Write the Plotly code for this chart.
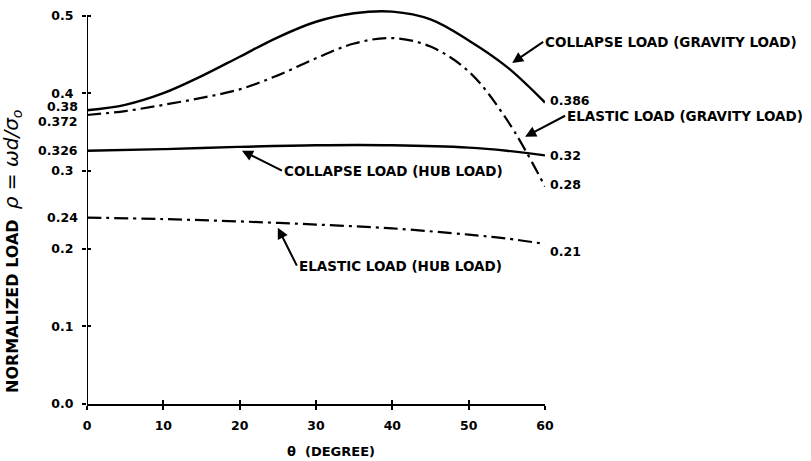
import plotly.graph_objects as go

# ---- data ----
theta = [0, 5, 10, 15, 20, 25, 30, 35, 40, 45, 50, 55, 60]
collapse_gravity = [0.378, 0.385, 0.400, 0.422, 0.447, 0.472, 0.492, 0.503, 0.505, 0.495, 0.468, 0.434, 0.388]
elastic_gravity = [0.372, 0.377, 0.385, 0.394, 0.405, 0.423, 0.445, 0.464, 0.471, 0.460, 0.428, 0.366, 0.28]
theta_hub = [0, 10, 20, 30, 40, 50, 55, 60]
collapse_hub = [0.326, 0.328, 0.331, 0.333, 0.333, 0.330, 0.326, 0.320]
elastic_hub = [0.240, 0.238, 0.235, 0.231, 0.226, 0.218, 0.213, 0.206]

x_ticks = [0, 10, 20, 30, 40, 50, 60]
y_ticks = [0.0, 0.1, 0.2, 0.3, 0.4, 0.5]
y_ticktext = ["0.0", "0.1", "0.2", "0.3", "0.4", "0.5"]
start_labels = ["0.38", "0.372", "0.326", "0.24"]
start_values = [0.38, 0.372, 0.326, 0.24]
start_shift = [2, -7, 0, 0]
end_labels = ["0.386", "0.32", "0.28", "0.21"]
end_shift = [2, 0, 2, -8]

Y_TOP = 0.5097  # a little headroom so the peak is not clipped
FONT = "DejaVu Sans"
fig = go.Figure()
solid = dict(color="black", width=2.4, shape="spline", smoothing=1.0)
dashdot = dict(color="black", width=2.2, shape="spline", smoothing=1.0, dash="14px,5px,3px,5px")

for xs, ys, ln in [(theta, collapse_gravity, solid), (theta, elastic_gravity, dashdot),
                   (theta_hub, collapse_hub, solid), (theta_hub, elastic_hub, dashdot)]:
    fig.add_trace(go.Scatter(x=xs, y=ys, mode="lines", line=ln, hoverinfo="skip"))
# invisible trace to activate the overlay axes (inner half of the cross ticks)
fig.add_trace(go.Scatter(x=[0], y=[0], xaxis="x2", yaxis="y2", mode="markers",
                         marker=dict(opacity=0), hoverinfo="skip"))

annots = []
tfont = dict(family=FONT, size=12.5, color="black")
for lab, v, s in zip(start_labels, start_values, start_shift):
    annots.append(dict(x=0, y=v, xref="paper", yref="y", text=f"<b>{lab}</b>", showarrow=False,
                       xanchor="right", yanchor="middle", xshift=-7, yshift=s, font=tfont))
ends = [collapse_gravity[-1], collapse_hub[-1], elastic_gravity[-1], elastic_hub[-1]]
for lab, v, s in zip(end_labels, ends, end_shift):
    annots.append(dict(x=60, y=v, xref="x", yref="y", text=f"<b>{lab}</b>", showarrow=False,
                       xanchor="left", yanchor="middle", xshift=3, yshift=s, font=tfont))

afont = dict(family=FONT, size=13.5, color="black")
arrow = dict(showarrow=True, arrowhead=2, arrowsize=1.1, arrowwidth=2, arrowcolor="black",
             xanchor="left", yanchor="middle", font=afont, standoff=0)
annots.append(dict(x=55.7, y=0.439, text="<b>COLLAPSE LOAD (GRAVITY LOAD)</b>", ax=31, ay=-21, **arrow))
annots.append(dict(x=57.4, y=0.344, text="<b>ELASTIC LOAD (GRAVITY LOAD)</b>", ax=40, ay=-21, **arrow))
annots.append(dict(x=20.3, y=0.326, text="<b>COLLAPSE LOAD (HUB LOAD)</b>", ax=40, ay=20, **arrow))
annots.append(dict(x=25.0, y=0.227, text="<b>ELASTIC LOAD (HUB LOAD)</b>", ax=19, ay=38, **arrow))

PH = 396.0  # plot height in px
annots.append(dict(x=-75 / 458, y=(404 - 252) / PH, xref="paper", yref="paper",
                   text="<b>NORMALIZED LOAD</b>  <span style='font-size:20px'><i>ρ = ωd/σ<sub>o</sub></i></span>",
                   textangle=-90, showarrow=False, xanchor="center", yanchor="middle",
                   font=dict(family=FONT, size=16, color="black")))
annots.append(dict(x=(331 - 87) / 458, y=-(452 - 404) / PH, xref="paper", yref="paper",
                   text="<b>θ  (DEGREE)</b>", showarrow=False, xanchor="center", yanchor="middle",
                   font=dict(family=FONT, size=13, color="black")))

fig.update_layout(
    width=811, height=461,
    margin=dict(l=87, r=266, t=8, b=57, autoexpand=False),
    paper_bgcolor="white", plot_bgcolor="white",
    showlegend=False,
    annotations=annots,
    font=dict(family=FONT, size=13, color="black"),
    shapes=[dict(type="line", xref="x", yref="y", x0=0, x1=0, y0=0, y1=0.5,
                 line=dict(color="black", width=2))],
)
axis_common = dict(showgrid=False, zeroline=False, linecolor="black", linewidth=2,
                   ticks="outside", ticklen=4, tickwidth=2, tickcolor="black", automargin=False,
                   tickfont=dict(family=FONT, size=12.5, color="black"))
fig.update_layout(
    xaxis=dict(range=[0, 60], tickvals=x_ticks, ticktext=[f"<b>{t}</b>" for t in x_ticks],
               showline=True, ticklabelstandoff=5, **axis_common),
    yaxis=dict(range=[0, Y_TOP], tickvals=y_ticks, ticktext=[f"<b>{t}</b>" for t in y_ticktext],
               showline=False, ticklabelstandoff=6, **axis_common),
    xaxis2=dict(range=[0, 60], overlaying="x", anchor="y", side="bottom", tickvals=x_ticks[1:],
                ticks="inside", ticklen=4, tickwidth=2, tickcolor="black", showticklabels=False,
                showline=False, showgrid=False, zeroline=False),
    yaxis2=dict(range=[0, Y_TOP], overlaying="y", anchor="x", side="left", tickvals=y_ticks[1:],
                ticks="inside", ticklen=4, tickwidth=2, tickcolor="black", showticklabels=False,
                showline=False, showgrid=False, zeroline=False),
)
fig.write_html("out.html", config={"displayModeBar": False},
               post_script="document.body.style.margin='0';")
